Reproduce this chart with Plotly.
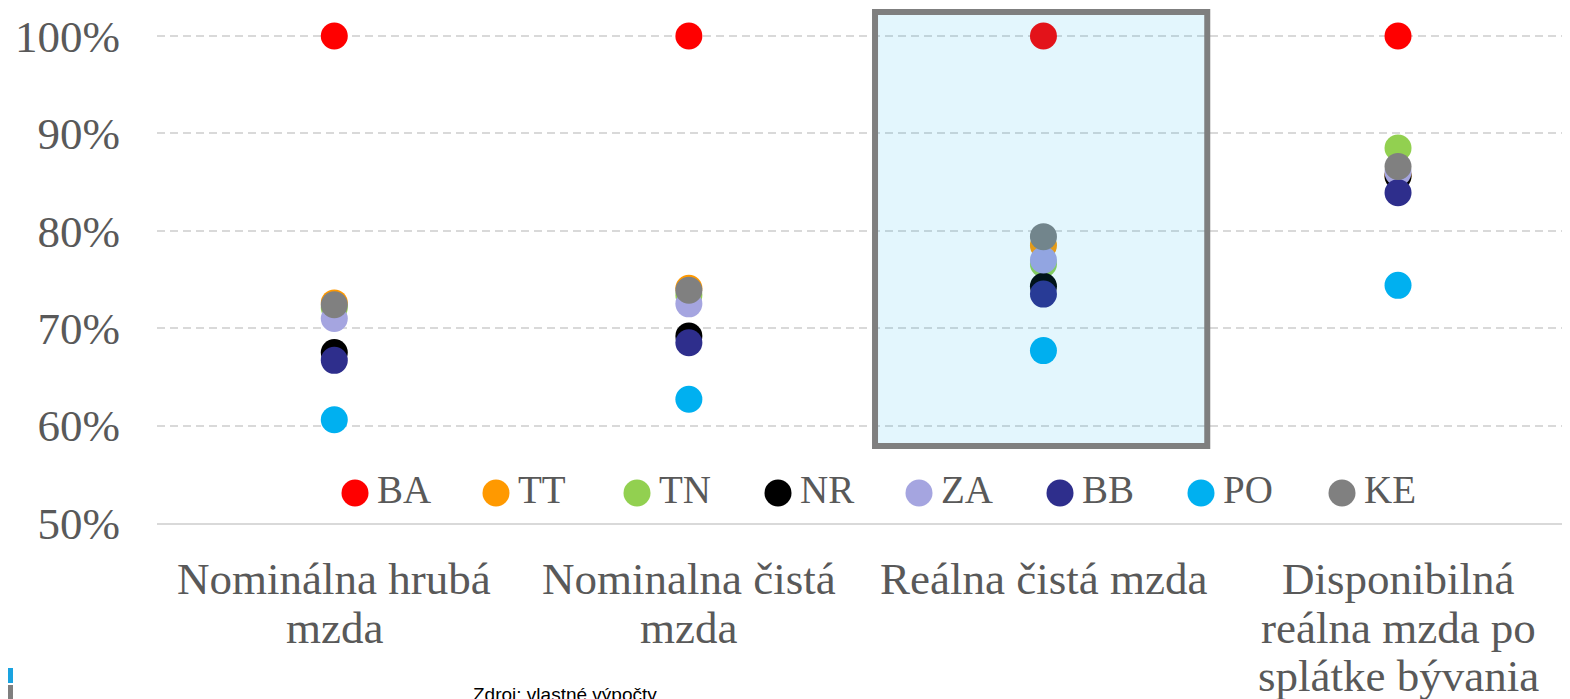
import plotly.graph_objects as go

# ---------------- data ----------------
categories = ["Nominálna hrubá mzda", "Nominalna čistá mzda", "Reálna čistá mzda",
              "Disponibilná reálna mzda po splátke bývania"]
category_lines = [["Nominálna hrubá", "mzda"],
                  ["Nominalna čistá", "mzda"],
                  ["Reálna čistá mzda"],
                  ["Disponibilná", "reálna mzda po", "splátke bývania"]]

regions = ["BA", "TT", "TN", "NR", "ZA", "BB", "PO", "KE"]
colors = ["#ff0000", "#ff9900", "#92d050", "#000000", "#a5a5e0", "#2e2e8c", "#00b0f0", "#808080"]

BA = [1.000, 1.000, 1.000, 1.000]
TT = [0.726, 0.741, 0.785, 0.857]
TN = [0.721, 0.734, 0.766, 0.885]
NR = [0.675, 0.692, 0.743, 0.856]
ZA = [0.710, 0.725, 0.770, 0.860]
BB = [0.667, 0.685, 0.735, 0.839]
PO = [0.606, 0.627, 0.677, 0.744]
KE = [0.724, 0.739, 0.794, 0.866]
series = [BA, TT, TN, NR, ZA, BB, PO, KE]

y_tick_vals = [0.5, 0.6, 0.7, 0.8, 0.9, 1.0]
y_tick_text = ["50%", "60%", "70%", "80%", "90%", "100%"]

source_text = "Zdroj: vlastné výpočty"
highlight_index = 2

# ---------------- layout constants ----------------
OFF = 8                      # page body margin
W, H = 1570 - OFF, 699 - OFF
ML, MR, MT = 157 - OFF, 0, 0
MB = H - (523 - OFF)
PW, PH = W - ML - MR, H - MT - MB
FONT = "Liberation Serif"
TXT = "#595959"

def px_to_paper_x(px):           # px in window coordinates
    return (px - OFF - ML) / PW

def px_to_paper_y(py):
    return (H - MB - (py - OFF)) / PH

unit_y = 974.0                   # pixels per 1.0 of value
y_top = 1.0 + (36 - OFF) / unit_y

fig = go.Figure()

for name, col, vals in zip(regions, colors, series):
    fig.add_trace(go.Scatter(
        x=categories, y=vals, mode="markers", name=name,
        marker=dict(size=27, color=col, line=dict(width=0)),
        showlegend=False, xaxis="x", yaxis="y"))

# custom legend (large markers like the original), on a hidden overlay axis pair
leg_unit = 141.0
leg_idx = list(range(len(regions)))
fig.add_trace(go.Scatter(
    x=leg_idx, y=[0] * len(regions), mode="markers",
    marker=dict(size=27, color=colors, line=dict(width=0)),
    showlegend=False, hoverinfo="skip", xaxis="x2", yaxis="y2", cliponaxis=False))
fig.add_trace(go.Scatter(
    x=[i + 22.0 / leg_unit for i in leg_idx], y=[0] * len(regions), mode="text",
    text=regions, textposition="middle right",
    textfont=dict(family=FONT, size=39, color=TXT),
    showlegend=False, hoverinfo="skip", xaxis="x2", yaxis="y2", cliponaxis=False))

leg_a = -(355 - 157) / leg_unit
leg_b = leg_a + PW / leg_unit
leg_y_frac = (523 - 493) / PH

shapes = [
    dict(type="rect", xref="x", yref="y",
         x0=highlight_index - 0.475, x1=highlight_index + 0.462, y0=0.579, y1=1.0246,
         line=dict(color="#7f7f7f", width=6), fillcolor="rgba(0,176,240,0.11)", layer="above"),
    dict(type="rect", xref="paper", yref="paper",
         x0=px_to_paper_x(OFF), x1=px_to_paper_x(OFF + 5), y0=px_to_paper_y(683), y1=px_to_paper_y(668),
         line=dict(width=0), fillcolor="#1aa3e0"),
    dict(type="rect", xref="paper", yref="paper",
         x0=px_to_paper_x(OFF), x1=px_to_paper_x(OFF + 5), y0=px_to_paper_y(699), y1=px_to_paper_y(685),
         line=dict(width=0), fillcolor="#7f7f7f"),
]

annotations = []
line_gap = 48.5
first_line_center = 579
for cat, lines in zip(categories, category_lines):
    for i, ln in enumerate(lines):
        annotations.append(dict(
            x=cat, xref="x", y=px_to_paper_y(first_line_center + i * line_gap), yref="paper",
            text=ln, showarrow=False, xanchor="center", yanchor="middle",
            font=dict(family=FONT, size=45, color=TXT)))

annotations.append(dict(
    x=px_to_paper_x(565), xref="paper", y=px_to_paper_y(682), yref="paper",
    text=source_text, showarrow=False, xanchor="center", yanchor="top",
    font=dict(family="Liberation Sans", size=19, color="#000000")))

fig.update_layout(
    width=W, height=H,
    margin=dict(l=ML, r=MR, t=MT, b=MB, pad=0),
    paper_bgcolor="white", plot_bgcolor="white",
    showlegend=False,
    xaxis=dict(type="category", range=[-0.5, 3.485], showgrid=False, showticklabels=False,
               showline=True, linecolor="#d9d9d9", linewidth=2, ticks="", zeroline=False,
               fixedrange=True),
    yaxis=dict(range=[0.5, y_top], tickvals=y_tick_vals, ticktext=y_tick_text,
               showgrid=True, gridcolor="#d9d9d9", gridwidth=2, griddash="8px,5px",
               zeroline=False, showline=False, ticks="",
               tickfont=dict(family=FONT, size=45, color=TXT), ticklabelstandoff=36),
    xaxis2=dict(overlaying="x", anchor="y2", range=[leg_a, leg_b], visible=False, fixedrange=True),
    yaxis2=dict(overlaying="y", anchor="x2", range=[-leg_y_frac, 1 - leg_y_frac], visible=False,
                fixedrange=True),
    shapes=shapes, annotations=annotations,
)

fig.write_html("out.html")
